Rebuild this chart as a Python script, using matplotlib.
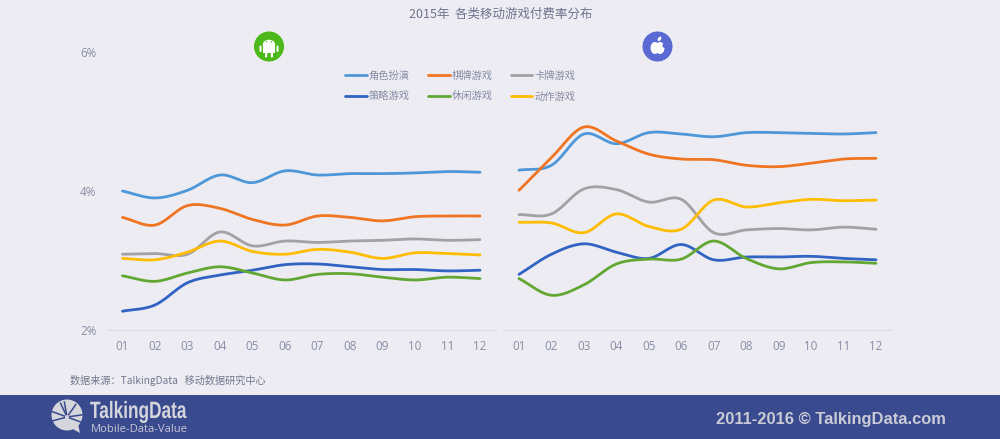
import numpy as np
import matplotlib
matplotlib.use("Agg")
import matplotlib.pyplot as plt
from matplotlib.patches import Circle, Rectangle, Polygon, FancyBboxPatch, Ellipse
from matplotlib.patheffects import AbstractPathEffect
from matplotlib.transforms import Affine2D

months = ["01", "02", "03", "04", "05", "06", "07", "08", "09", "10", "11", "12"]
genres = ["角色扮演", "棋牌游戏", "卡牌游戏", "策略游戏", "休闲游戏", "动作游戏"]
colors = ["#4E97D8", "#EF7522", "#A2A2A5", "#3163C3", "#63A733", "#FFBC00"]

android_rpg = [4.00, 3.90, 4.01, 4.23, 4.12, 4.29, 4.23, 4.25, 4.25, 4.26, 4.28, 4.27]
android_chess = [3.62, 3.51, 3.79, 3.75, 3.59, 3.51, 3.64, 3.62, 3.57, 3.63, 3.64, 3.64]
android_card = [3.09, 3.10, 3.09, 3.41, 3.21, 3.28, 3.26, 3.28, 3.29, 3.31, 3.29, 3.30]
android_strategy = [2.27, 2.36, 2.68, 2.79, 2.86, 2.94, 2.95, 2.91, 2.87, 2.87, 2.85, 2.86]
android_casual = [2.78, 2.70, 2.82, 2.91, 2.82, 2.72, 2.80, 2.81, 2.76, 2.72, 2.76, 2.74]
android_action = [3.03, 3.01, 3.12, 3.28, 3.13, 3.09, 3.16, 3.12, 3.03, 3.11, 3.10, 3.08]

ios_rpg = [4.30, 4.37, 4.82, 4.68, 4.84, 4.82, 4.78, 4.84, 4.84, 4.83, 4.82, 4.84]
ios_chess = [4.01, 4.48, 4.92, 4.72, 4.53, 4.46, 4.45, 4.37, 4.35, 4.40, 4.46, 4.47]
ios_card = [3.66, 3.67, 4.03, 4.02, 3.84, 3.88, 3.40, 3.44, 3.46, 3.44, 3.48, 3.45]
ios_strategy = [2.80, 3.09, 3.24, 3.12, 3.03, 3.23, 3.01, 3.05, 3.05, 3.06, 3.03, 3.01]
ios_casual = [2.74, 2.50, 2.65, 2.95, 3.02, 3.02, 3.28, 3.03, 2.88, 2.97, 2.98, 2.96]
ios_action = [3.55, 3.54, 3.40, 3.67, 3.49, 3.45, 3.87, 3.77, 3.83, 3.88, 3.86, 3.87]

android_series = [android_rpg, android_chess, android_card, android_strategy, android_casual, android_action]
ios_series = [ios_rpg, ios_chess, ios_card, ios_strategy, ios_casual, ios_action]

BG = "#ECECF2"
BAND = "#3A4A8F"
TXT = "#8A8EA6"
plt.rcParams["font.family"] = ["Noto Sans CJK SC", "DejaVu Sans"]

W, H = 1000, 439
fig = plt.figure(figsize=((W + 0.01) / 100, (H + 0.01) / 100), dpi=100, facecolor=BG)


class Squeeze(AbstractPathEffect):
    """Narrow the glyphs of a real text object horizontally."""

    def __init__(self, sx):
        super().__init__()
        self.sx = sx

    def draw_path(self, renderer, gc, tpath, affine, rgbFace=None):
        renderer.draw_path(gc, tpath, Affine2D().scale(self.sx, 1) + affine, rgbFace)


def smooth(x, y, n=24):
    """Draw-time smoothing through the data points (Catmull-Rom)."""
    x, y = np.asarray(x, float), np.asarray(y, float)
    px = np.r_[2 * x[0] - x[1], x, 2 * x[-1] - x[-2]]
    py = np.r_[2 * y[0] - y[1], y, 2 * y[-1] - y[-2]]
    xs, ys = [], []
    t = np.linspace(0, 1, n, endpoint=False)[:, None]
    for i in range(1, len(px) - 2):
        for arr, out in ((px, xs), (py, ys)):
            a, b, c, d = arr[i - 1:i + 3]
            out.append((0.5 * (2 * b + (c - a) * t + (2 * a - 5 * b + 4 * c - d) * t ** 2
                               + (3 * b - a - 3 * c + d) * t ** 3)).ravel())
    return np.r_[np.concatenate(xs), x[-1]], np.r_[np.concatenate(ys), y[-1]]


def make_axes(left, right, first, last):
    ax = fig.add_axes([left / W, 1 - 330 / H, (right - left) / W, (330 - 52) / H])
    ax.set_facecolor("none")
    step = (last - first) / 11
    ax.set_xlim((left - first) / step, (right - first) / step)
    ax.set_ylim(2, 6)
    for s in ("top", "left", "right"):
        ax.spines[s].set_visible(False)
    ax.spines["bottom"].set_color("#DEDEE6")
    ax.spines["bottom"].set_linewidth(1)
    ax.set_xticks(range(12))
    ax.set_xticklabels(months, family=["Open Sans"])
    ax.tick_params(axis="x", length=0, pad=7.5, labelsize=8.4, labelcolor=TXT)
    return ax


ax1 = make_axes(107, 495.5, 122.5, 480)
ax2 = make_axes(504, 892, 519, 876)
ax1.set_yticks([2, 4, 6])
ax1.set_yticklabels(["2%", "4%", "6%"], family=["Open Sans"])
ax1.tick_params(axis="y", length=0, pad=7.5, labelsize=8.4, labelcolor=TXT)
ax2.set_yticks([])

xpos = np.arange(12)
handles = []
for ax, group in ((ax1, android_series), (ax2, ios_series)):
    handles = []
    for vals, c, name in zip(group, colors, genres):
        sx, sy = smooth(xpos, vals)
        h, = ax.plot(sx, sy, color=c, lw=2.0, label=name, solid_capstyle="round", clip_on=False)
        handles.append(h)

order = [0, 3, 1, 4, 2, 5]
leg = fig.legend([handles[i] for i in order], [genres[i] for i in order], ncol=3,
                 loc="upper left", bbox_to_anchor=(345 / W, 1 - 70.5 / H), frameon=False,
                 fontsize=7.4, handlelength=2.1, handletextpad=0.2, columnspacing=1.78,
                 labelspacing=1.05, borderpad=0, borderaxespad=0, labelcolor=TXT)

# overlay in pixel coordinates: footer band, badges, texts
ov = fig.add_axes([0, 0, 1, 1], zorder=-1)
ov.set_xlim(0, W)
ov.set_ylim(H, 0)
ov.axis("off")
ov2 = fig.add_axes([0, 0, 1, 1], zorder=5)
ov2.set_xlim(0, W)
ov2.set_ylim(H, 0)
ov2.axis("off")
ov2.patch.set_alpha(0)

ov.add_patch(Rectangle((0, 395), W, 44, fc=BAND, ec="none"))

ov2.text(501, 14, "2015年  各类移动游戏付费率分布", ha="center", va="center", fontsize=9.0, color="#70748E")
ov2.text(70, 380.5, "数据来源：TalkingData   移动数据研究中心", ha="left", va="center", fontsize=7.3, color="#74788F")

# Android badge
ov2.add_patch(Circle((269, 46.5), 15.5, fc="#4DB81B", ec="#F5F6F4", lw=0.6))
ov2.add_patch(Ellipse((269, 44.5), 12.4, 9.5, fc="white", ec="none"))
ov2.add_patch(Rectangle((262.8, 45.5), 12.4, 8, fc="white", ec="none"))
for bx in (259.5, 276.5):
    ov2.add_patch(FancyBboxPatch((bx, 45.5), 2, 6.5, boxstyle="round,pad=0,rounding_size=1", fc="white", ec="none"))
for bx in (265, 270.8):
    ov2.add_patch(FancyBboxPatch((bx, 52), 2.2, 5.5, boxstyle="round,pad=0,rounding_size=1", fc="white", ec="none"))
for bx in (266.7, 271.3):
    ov2.add_patch(Circle((bx, 41.8), 0.7, fc="#4DB81B", ec="none"))

# Apple badge
ov2.add_patch(Circle((657.5, 46.5), 15.5, fc="#5A6AD2", ec="#F2F3FA", lw=0.6))
ov2.add_patch(Ellipse((655, 48), 9, 12, fc="white", ec="none"))
ov2.add_patch(Ellipse((660, 48), 9, 12, fc="white", ec="none"))
ov2.add_patch(Ellipse((659.5, 38.8), 3, 5, angle=35, fc="white", ec="none"))
ov2.add_patch(Circle((665, 45.5), 2.6, fc="#5A6AD2", ec="none"))

# TalkingData logo
LOGO = "#D5D6DC"
ov2.add_patch(Circle((67, 415), 15.5, fc=LOGO, ec="none"))
ov2.add_patch(Polygon([(71, 428), (80, 433), (78, 424)], closed=True, fc=LOGO, ec="none"))
for ang in (-100, -55, -8, 20, 165, 200, 245):
    r = np.radians(ang)
    ov2.plot([67 + 2 * np.cos(r), 67 + 16 * np.cos(r)], [417 + 2 * np.sin(r), 417 + 16 * np.sin(r)],
             color=BAND, lw=1.1, solid_capstyle="butt")
t = ov2.text(90, 411.5, "TalkingData", ha="left", va="center", fontsize=17, fontweight="bold", color=LOGO,
             family=["Liberation Sans"])
t.set_path_effects([Squeeze(0.73)])
ov2.text(90.5, 429, "Mobile-Data-Value", ha="left", va="center", fontsize=8.1, color="#C4C6D4", family=["Open Sans"])
ov2.text(716, 419.5, "2011-2016 © TalkingData.com", ha="left", va="center", fontsize=11.9, fontweight="bold",
         color="#C9CBD6", family=["Liberation Sans"])

fig.savefig("out.png", dpi=100, facecolor=BG)
